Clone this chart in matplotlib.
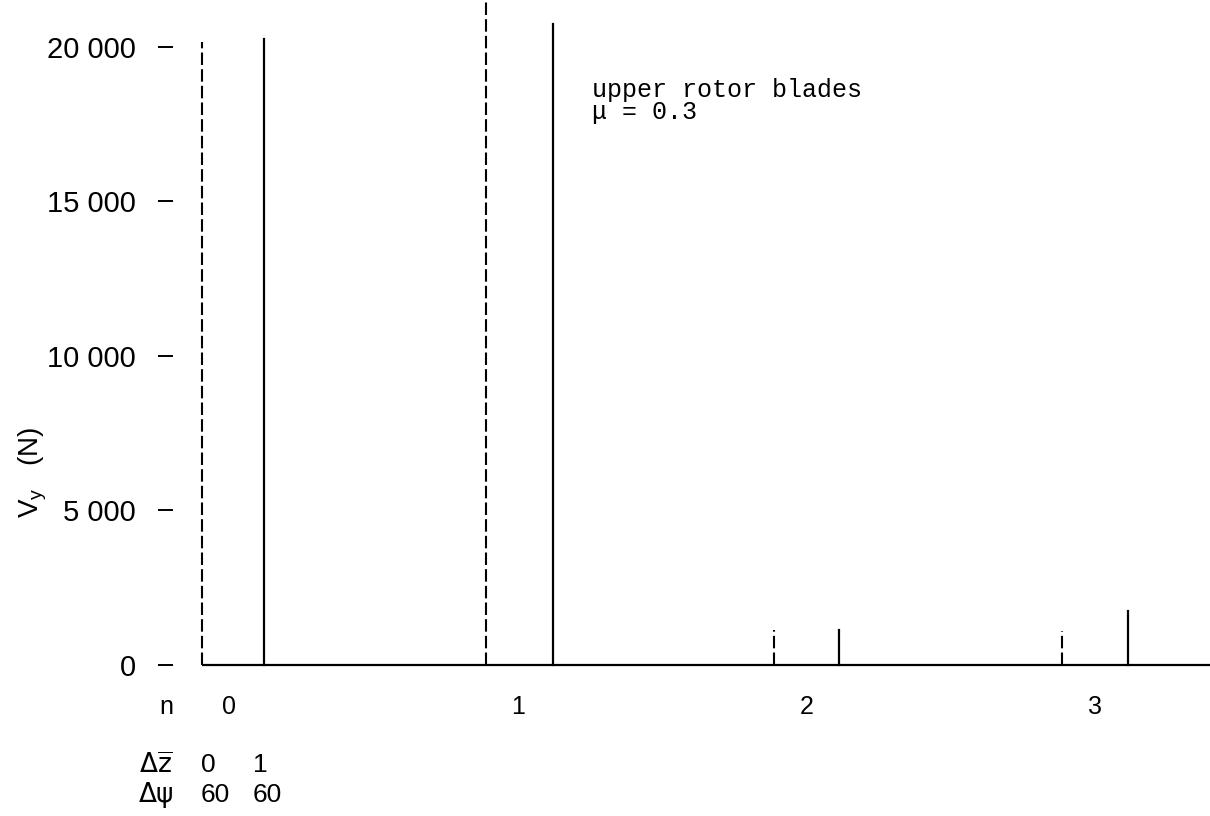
import matplotlib
matplotlib.use("Agg")
import matplotlib.pyplot as plt

# harmonic number n and line positions (in n units)
n_labels = [0, 1, 2, 3]
dashed_x = [-0.094, 0.890, 1.888, 2.885]
solid_x = [0.121, 1.122, 2.113, 3.114]
dashed_vy = [20150, 21600, 1120, 1090]
solid_vy = [20250, 20750, 1120, 1740]

yticks = [0, 5000, 10000, 15000, 20000]
ytick_labels = ["0", "5 000", "10 000", "15 000", "20 000"]

dz_values = ["0", "1"]
dpsi_values = ["60", "60"]

plt.rcParams['font.family'] = ['Liberation Sans', 'DejaVu Sans']

W, H = 1210, 816
fig = plt.figure(figsize=(W / 100, H / 100), dpi=100)

# axes placed in pixels: left 193.6px, bottom 680px from top, to the top/right edge
px_per_n = 288.7
n0_px = 229.0
left_px = 193.6
ax = fig.add_axes([left_px / W, (H - 680) / H, 1 - left_px / W, 680 / H])
ax.set_xlim((left_px - n0_px) / px_per_n, (W - n0_px) / px_per_n)
px_per_unit = 618.3 / 20000
ax.set_ylim(-15 / px_per_unit, 665 / px_per_unit)

for s in ax.spines.values():
    s.set_visible(False)

# baseline
ax.plot([dashed_x[0], ax.get_xlim()[1]], [0, 0], color='black', lw=1.6,
        solid_capstyle='butt')

for xd, yd in zip(dashed_x, dashed_vy):
    ax.plot([xd, xd], [0, yd], color='black', lw=1.5, dashes=(6, 2))
for xs, ys in zip(solid_x, solid_vy):
    ax.plot([xs, xs], [0, ys], color='black', lw=1.6)

# y axis ticks: short dashes away from the lines
ax.spines['left'].set_position(('outward', 14.8))
ax.set_yticks(yticks)
ax.set_yticklabels(ytick_labels)
ax.tick_params(axis='y', length=10.8, width=1.4, pad=16, labelsize=21)

ax.set_xticks(n_labels)
ax.set_xticklabels([str(v) for v in n_labels])
ax.tick_params(axis='x', length=0, pad=11, labelsize=18)

fig.text(33 / W, 1 - 472 / H, r"V$_\mathregular{y}$   (N)", rotation=90,
         ha='center', va='center', fontsize=20)

ax.text(1.257, 18990, "upper rotor blades\n\u03bc = 0.3", ha='left', va='top',
        fontsize=18, family=['Liberation Mono', 'DejaVu Sans Mono'],
        linespacing=0.9)

# small table under the axis
fig.text(166 / W, 1 - 707 / H, "n", ha='center', va='center', fontsize=18)
fig.text(156 / W, 1 - 765 / H, r"$\Delta\overline{\mathsf{z}}$", ha='center',
         va='center', fontsize=19)
fig.text(156 / W, 1 - 795 / H, "\u0394\u03c8", ha='center', va='center',
         fontsize=19, family=['DejaVu Sans'])
col_px = [201, 253]
for cx, dz, dp in zip(col_px, dz_values, dpsi_values):
    fig.text(cx / W, 1 - 765 / H, dz, ha='left', va='center', fontsize=19)
    fig.text(cx / W, 1 - 795 / H, dp, ha='left', va='center', fontsize=19)

fig.savefig("out.png", dpi=100)
